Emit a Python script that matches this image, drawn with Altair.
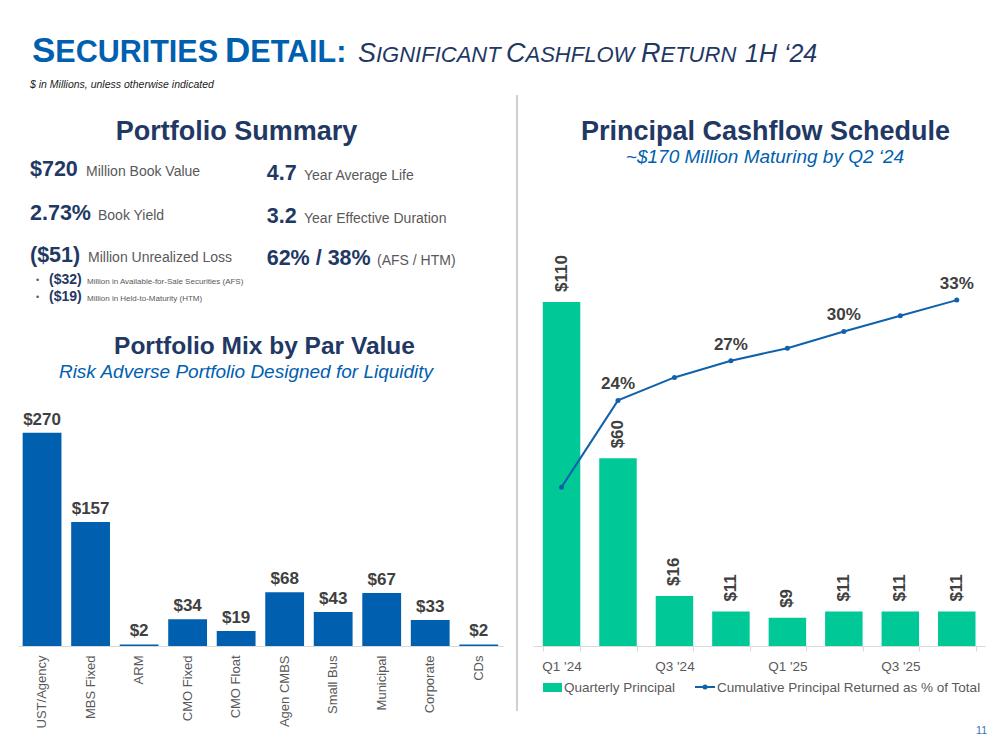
import altair as alt
import pandas as pd

FONT = "Liberation Sans, Arial, sans-serif"
OFF = 8          # page margin
W, H = 983, 638  # plot area (baseline of both bar charts at page y=646)

NAVY = "#1F3864"
BLUE = "#0060AF"
GRAY = "#595959"
DARK = "#404040"
GREEN = "#00C897"
LINE = "#1061AC"
AXIS = "#D9D9D9"

# ---------------- data ----------------
mix_categories = ["UST/Agency", "MBS Fixed", "ARM", "CMO Fixed", "CMO Float",
                  "Agen CMBS", "Small Bus", "Municipal", "Corporate", "CDs"]
mix_values = [270, 157, 2, 34, 19, 68, 43, 67, 33, 2]

quarters = ["Q1 '24", "Q2 '24", "Q3 '24", "Q4 '24", "Q1 '25", "Q2 '25", "Q3 '25", "Q4 '25"]
principal = [110, 60, 16, 11, 9, 11, 11, 11]
cum_pct = [15.2, 23.5, 25.7, 27.3, 28.5, 30.1, 31.6, 33.1]
cum_labels = ["", "24%", "", "27%", "", "30%", "", "33%"]

mix_df = pd.DataFrame({"category": mix_categories, "par": mix_values,
                       "label": ["$" + str(v) for v in mix_values]})
cf_df = pd.DataFrame({"quarter": quarters, "principal": principal,
                      "plabel": ["$" + str(v) for v in principal],
                      "cum": cum_pct, "clabel": cum_labels})
anchor = pd.DataFrame({"k": [0]})


def T(text, x, y, size, color, bold=False, italic=False, align="left"):
    return alt.Chart(anchor).mark_text(
        text=text, fontSize=size, color=color, font=FONT,
        fontWeight="bold" if bold else "normal",
        fontStyle="italic" if italic else "normal",
        align=align, baseline="alphabetic",
    ).encode(x=alt.value(x - OFF), y=alt.value(y - OFF))


# ---------------- left: portfolio mix ----------------
lx = alt.X("category:N", sort=mix_categories,
           scale=alt.Scale(range=[9.8, 495], paddingInner=0.2, paddingOuter=0.1),
           axis=alt.Axis(orient="bottom", title=None, labelAngle=-90, labelFontSize=13,
                         labelColor=GRAY, labelFont=FONT, labelPadding=9, ticks=False,
                         domainColor=AXIS, domainWidth=1, labelLimit=300))
ly = alt.Y("par:Q", scale=alt.Scale(domain=[0, 808], nice=False, zero=True), axis=None)

left_bars = alt.Chart(mix_df).mark_bar(color=BLUE).encode(x=lx, y=ly)
left_text = alt.Chart(mix_df).mark_text(
    dy=-8, baseline="alphabetic", fontSize=17, fontWeight="bold", color=DARK, font=FONT
).encode(x=lx, y=ly, text="label:N")
left = alt.layer(left_bars, left_text)

# ---------------- right: cashflow schedule ----------------
rx = alt.X("quarter:N", sort=quarters,
           scale=alt.Scale(range=[525.3, 977], paddingInner=0.336, paddingOuter=0.168),
           axis=alt.Axis(orient="bottom", title=None, labelAngle=0,
                         labelExpr="test(/^Q[13]/, datum.label) ? datum.label : ''",
                         tickBand="extent", tickSize=5, tickColor=AXIS, domainColor=AXIS,
                         labelPadding=8, labelFontSize=13.5, labelColor=GRAY, labelFont=FONT))
ry = alt.Y("principal:Q", scale=alt.Scale(domain=[0, 204], nice=False, zero=True), axis=None)
ry2 = alt.Y("cum:Q", scale=alt.Scale(domain=[0, 61.05], nice=False, zero=True), axis=None)

right_bars = alt.Chart(cf_df).mark_bar(color=GREEN).encode(x=rx, y=ry)
right_text = alt.Chart(cf_df).mark_text(
    angle=270, align="left", baseline="middle", dx=10, fontSize=17,
    fontWeight="bold", color=DARK, font=FONT
).encode(x=rx, y=ry, text="plabel:N")
right_line = alt.Chart(cf_df).mark_line(
    color=LINE, strokeWidth=2,
    point=alt.OverlayMarkDef(filled=True, size=25, color=LINE)
).encode(x=rx, y=ry2)
right_ltext = alt.Chart(cf_df).mark_text(
    dy=-11, baseline="alphabetic", fontSize=17, fontWeight="bold", color=DARK, font=FONT
).encode(x=rx, y=ry2, text="clabel:N")
right = alt.layer(alt.layer(right_bars, right_text),
                  alt.layer(right_line, right_ltext)).resolve_scale(y="independent")

# ---------------- annotations ----------------
notes = [
    # slide title (small caps imitation)
    T("S", 32, 62, 35, BLUE, bold=True),
    T("ECURITIES", 55.3, 62, 30.5, BLUE, bold=True),
    T("D", 225, 62, 35, BLUE, bold=True),
    T("ETAIL:", 250.3, 62, 30.5, BLUE, bold=True),
    T("S", 358, 62, 27, NAVY, italic=True),
    T("IGNIFICANT", 376, 62, 22, NAVY, italic=True),
    T("C", 506, 62, 27, NAVY, italic=True),
    T("ASHFLOW", 525.5, 62, 22, NAVY, italic=True),
    T("R", 641, 62, 27, NAVY, italic=True),
    T("ETURN", 660.5, 62, 22, NAVY, italic=True),
    T("1H \u201824", 745, 62, 25, NAVY, italic=True),
    T("$ in Millions, unless otherwise indicated", 30, 88, 10.5, "#1A1A1A", italic=True),
    # headers
    T("Portfolio Summary", 236.5, 140, 27, NAVY, bold=True, align="center"),
    T("Portfolio Mix by Par Value", 264.5, 354, 24.5, NAVY, bold=True, align="center"),
    T("Risk Adverse Portfolio Designed for Liquidity", 246, 378, 19, BLUE, italic=True, align="center"),
    T("Principal Cashflow Schedule", 765.5, 140, 27, NAVY, bold=True, align="center"),
    T("~$170 Million Maturing by Q2 \u201824", 765, 163, 19, BLUE, italic=True, align="center"),
    # summary stats
    T("$720", 30, 176, 21.5, NAVY, bold=True),
    T("Million Book Value", 86, 176, 14, GRAY),
    T("2.73%", 30, 220, 21.5, NAVY, bold=True),
    T("Book Yield", 98, 220, 14, GRAY),
    T("($51)", 30, 262, 21.5, NAVY, bold=True),
    T("Million Unrealized Loss", 88, 262, 14, GRAY),
    T("4.7", 266.7, 180, 21.5, NAVY, bold=True),
    T("Year Average Life", 304, 180, 14, GRAY),
    T("3.2", 266.7, 223, 21.5, NAVY, bold=True),
    T("Year Effective Duration", 304, 223, 14, GRAY),
    T("62% / 38%", 266.7, 265, 21.5, NAVY, bold=True),
    T("(AFS / HTM)", 377, 265, 14, GRAY),
    T("\u2022", 36, 283, 9, GRAY),
    T("($32)", 49, 283.5, 14, NAVY, bold=True),
    T("Million in Available-for-Sale Securities (AFS)", 87, 283.5, 8, GRAY),
    T("\u2022", 36, 300, 9, GRAY),
    T("($19)", 49, 300.5, 14, NAVY, bold=True),
    T("Million in Held-to-Maturity (HTM)", 87, 300.5, 8, GRAY),
    # legend (right chart)
    T("Quarterly Principal", 564, 692, 13.5, GRAY),
    T("Cumulative Principal Returned as % of Total", 717, 692, 13.5, GRAY),
    # page number
    T("11", 987, 734, 10.5, "#2E75B6", align="right"),
]

divider = alt.Chart(anchor).mark_rule(color="#BFBFBF", strokeWidth=1.5).encode(
    x=alt.value(517 - OFF), y=alt.value(95 - OFF), y2=alt.value(711 - OFF))
leg_rect = alt.Chart(anchor).mark_rect(color=GREEN).encode(
    x=alt.value(543 - OFF), x2=alt.value(562 - OFF),
    y=alt.value(683 - OFF), y2=alt.value(692 - OFF))
leg_line = alt.Chart(anchor).mark_rule(color=LINE, strokeWidth=2).encode(
    x=alt.value(695 - OFF), x2=alt.value(715 - OFF), y=alt.value(687 - OFF))
leg_pt = alt.Chart(anchor).mark_point(filled=True, size=25, color=LINE, opacity=1).encode(
    x=alt.value(705 - OFF), y=alt.value(687 - OFF))

chart = alt.layer(left, right, divider, leg_rect, leg_line, leg_pt, *notes).resolve_scale(
    x="independent", y="independent"
).properties(
    width=W, height=H,
    autosize=alt.AutoSizeParams(type="none"),
    padding={"left": 0, "top": 0, "right": 0, "bottom": 92},
    background="white",
).configure_view(stroke=None)

chart.save("out.html", embed_options={"renderer": "svg", "actions": False})
